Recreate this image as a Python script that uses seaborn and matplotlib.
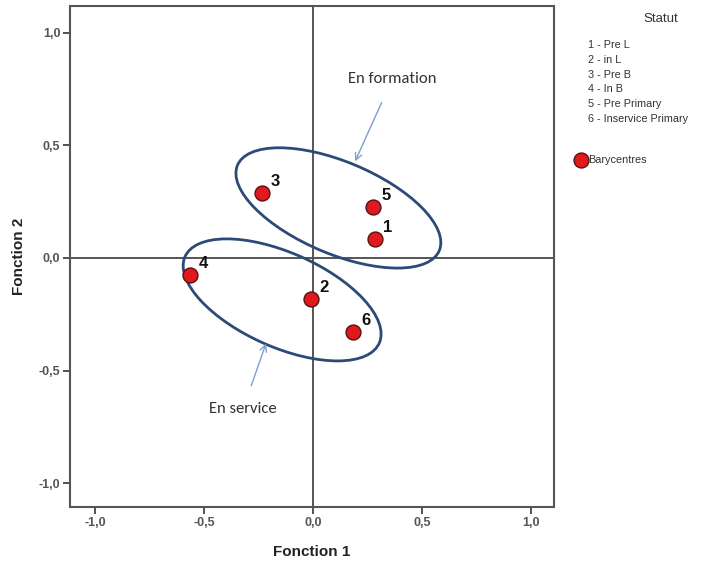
#! /usr/bin/env python3
'''
Discriminant function plot: group barycentres (Statut) on Fonction 1 / Fonction 2
'''
import matplotlib
matplotlib.use('Agg')
import matplotlib.pyplot as plt
from matplotlib.patches import Ellipse
from matplotlib.ticker import FuncFormatter
import seaborn as sns
import pandas as pd

# data
groups = ["1", "2", "3", "4", "5", "6"]
group_names = ["Pre L", "in L", "Pre B", "In B", "Pre Primary", "Inservice Primary"]
fonction1 = [0.283, -0.011, -0.233, -0.564, 0.274, 0.182]
fonction2 = [0.084, -0.180, 0.288, -0.074, 0.225, -0.328]
ticks = [-1.0, -0.5, 0.0, 0.5, 1.0]

# hand-drawn clusters (center x, center y, width, height, angle)
cluster_labels = ["En formation", "En service"]
cluster_shapes = [(0.116, 0.222, 1.0, 0.41, -22), (-0.142, -0.186, 0.97, 0.42, -23)]

sns.set_style("white")
plt.rcParams['font.family'] = ['Liberation Sans', 'DejaVu Sans']

df = pd.DataFrame({"x": fonction1, "y": fonction2, "g": groups})

fig = plt.figure(figsize=(7.09, 5.64), dpi=100)
ax = fig.add_axes([0.0987, 0.101, 0.6827, 0.888])

ax.axhline(0, color="#555555", lw=1.4, zorder=1)
ax.axvline(0, color="#555555", lw=1.4, zorder=1)

sns.scatterplot(data=df, x="x", y="y", ax=ax, s=115, color="#e0191e",
                edgecolor="#5a1010", linewidth=1.0, zorder=4, label="Barycentres")
for _, r in df.iterrows():
    ax.annotate(r["g"], (r["x"], r["y"]), xytext=(6, 5), textcoords="offset points",
                fontsize=12, fontweight="bold", color="#111111", zorder=5)

# cluster ellipses
for (cx, cy, w, h, a) in cluster_shapes:
    ax.add_patch(Ellipse((cx, cy), w, h, angle=a, fill=False, edgecolor="#2c4a78",
                         lw=2.0, zorder=3))

ax.annotate(cluster_labels[0], xy=(0.193, 0.429), xytext=(0.362, 0.792),
            ha="center", va="center", fontsize=12, color="#333333",
            family=['Carlito', 'Liberation Sans', 'DejaVu Sans'],
            arrowprops=dict(arrowstyle="->", color="#7d9fcc", lw=1.0, shrinkA=10, shrinkB=0))
ax.annotate(cluster_labels[1], xy=(-0.216, -0.379), xytext=(-0.321, -0.671),
            ha="center", va="center", fontsize=12, color="#333333",
            family=['Carlito', 'Liberation Sans', 'DejaVu Sans'],
            arrowprops=dict(arrowstyle="->", color="#7d9fcc", lw=1.0, shrinkA=10, shrinkB=0))

ax.set_xlim(-1.115, 1.105)
ax.set_ylim(-1.105, 1.117)
ax.set_xticks(ticks)
ax.set_yticks(ticks)
fmt = FuncFormatter(lambda v, p: ("%.1f" % v).replace(".", ","))
ax.xaxis.set_major_formatter(fmt)
ax.yaxis.set_major_formatter(fmt)
ax.tick_params(direction="out", length=5, width=1.3, color="#444444", pad=2,
               labelsize=9, labelcolor="#555555", bottom=True, left=True)
for lab in ax.get_xticklabels() + ax.get_yticklabels():
    lab.set_fontweight("bold")
for sp in ax.spines.values():
    sp.set_color("#555555")
    sp.set_linewidth(1.5)

ax.set_xlabel("Fonction 1", fontsize=11, fontweight="bold", color="#222222", labelpad=12)
ax.set_ylabel("Fonction 2", fontsize=11, fontweight="bold", color="#222222", labelpad=9)

# legend
fig.text(0.932, 0.967, "Statut", ha="center", va="center", fontsize=9.5, color="#333333")
for i, (g, n) in enumerate(zip(groups, group_names)):
    fig.text(0.829, 0.920 - i * 0.0262, "%s - %s" % (g, n), ha="left", va="center",
             fontsize=7.8, color="#333333")
ax.legend(loc="center left", bbox_to_anchor=(0.802, 0.716), bbox_transform=fig.transFigure,
          frameon=False, fontsize=7.8, handletextpad=0.1, markerscale=1.0,
          labelcolor="#333333", borderpad=0, handlelength=1.2)

fig.savefig("out.png", dpi=100)
